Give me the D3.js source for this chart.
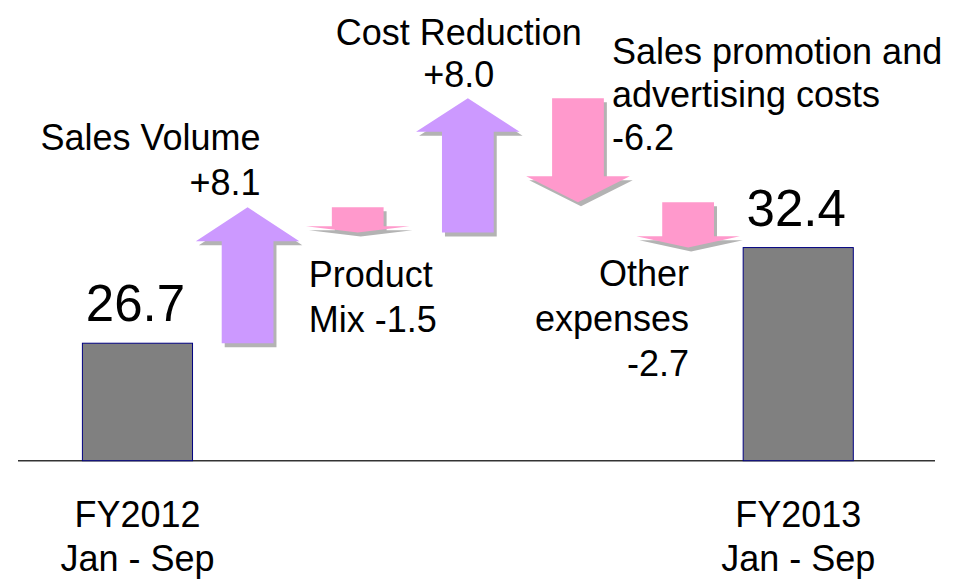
<!DOCTYPE html>
<html>
<head>
<meta charset="utf-8">
<script src="https://cdn.jsdelivr.net/npm/d3@7"></script>
<style>
  body { margin: 0; background: #fff; }
  svg { display: block; font-family: "Liberation Sans", Arial, sans-serif; }
</style>
</head>
<body>
<svg id="chart" width="955" height="579"></svg>
<script>
// data
const categories = ["FY2012", "Sales Volume", "Product Mix", "Cost Reduction", "Sales promotion", "Other expenses", "FY2013"];
const totalLabels = [["FY2012", "Jan - Sep"], ["FY2013", "Jan - Sep"]];
const totals = [26.7, 32.4];
const deltas = [8.1, -1.5, 8.0, -6.2, -2.7];
const deltaLabels = [
  ["Sales Volume", "+8.1"],
  ["Product", "Mix -1.5"],
  ["Cost Reduction", "+8.0"],
  ["Sales promotion and", "advertising costs", "-6.2"],
  ["Other", "expenses", "-2.7"]
];
const axisFloor = 19.7; // value sitting on the baseline (axis is broken)

const svg = d3.select("#chart");
const baseY = 460.7;

const x = d3.scaleBand().domain(categories).range([82.4, 853.3]).padding(0);
const y = d3.scaleLinear().domain([axisFloor, 41.3]).range([baseY, 98.2]);
const bw = x.bandwidth();

// baseline
svg.append("line")
  .attr("x1", 18).attr("x2", 935)
  .attr("y1", baseY).attr("y2", baseY)
  .attr("stroke", "#333").attr("stroke-width", 1.5);

// total bars
const bars = [
  { cat: categories[0], value: totals[0], label: totalLabels[0] },
  { cat: categories[6], value: totals[1], label: totalLabels[1] }
];

svg.selectAll("rect.total")
  .data(bars)
  .enter().append("rect")
  .attr("class", "total")
  .attr("x", d => x(d.cat))
  .attr("y", d => y(d.value))
  .attr("width", bw)
  .attr("height", d => baseY - y(d.value))
  .attr("fill", "#808080")
  .attr("stroke", "#000080")
  .attr("stroke-width", 1);

svg.selectAll("text.total")
  .data(bars)
  .enter().append("text")
  .attr("class", "total")
  .attr("x", d => x(d.cat) + bw / 2 - 2)
  .attr("y", d => y(d.value) - 22)
  .attr("text-anchor", "middle")
  .attr("font-size", 51)
  .text(d => d.value.toFixed(1));

// category labels under baseline
bars.forEach(d => {
  const t = svg.append("text")
    .attr("text-anchor", "middle")
    .attr("font-size", 36);
  d.label.forEach((line, i) => {
    t.append("tspan")
      .attr("x", x(d.cat) + bw / 2)
      .attr("y", 527 + i * 44)
      .text(line);
  });
});

// arrows
let level = totals[0];
const steps = deltas.map((v, i) => {
  const s = { cat: categories[i + 1], start: level, end: level + v, value: v, label: deltaLabels[i] };
  level += v;
  return s;
});

function arrowPath(d) {
  const cx = x(d.cat) + bw / 2;
  const y0 = y(d.start), y1 = y(d.end);
  const dir = y1 < y0 ? -1 : 1;
  const len = Math.abs(y1 - y0);
  const head = len * 0.25;
  const hw = bw * 0.94 / 2, sw = bw * 0.47 / 2;
  const yb = y1 - dir * head;
  const pts = [
    [cx - sw, y0], [cx - sw, yb], [cx - hw, yb], [cx, y1],
    [cx + hw, yb], [cx + sw, yb], [cx + sw, y0]
  ];
  return d3.line()(pts) + "Z";
}

svg.selectAll("path.shadow")
  .data(steps)
  .enter().append("path")
  .attr("class", "shadow")
  .attr("d", arrowPath)
  .attr("transform", "translate(3,4)")
  .attr("fill", "#b3b3b3");

svg.selectAll("path.arrow")
  .data(steps)
  .enter().append("path")
  .attr("class", "arrow")
  .attr("d", arrowPath)
  .attr("fill", d => d.value > 0 ? "#cc99ff" : "#ff99cc");

// label placement relative to each arrow: anchor, dx from centre, baseline of first line relative to a reference level
const labelLayout = [
  { anchor: "end", dx: 13, ref: "end", dy: -57, lh: 45 },
  { anchor: "start", dx: -49, ref: "end", dy: 55, lh: 45 },
  { anchor: "middle", dx: -9, ref: "end", dy: -53, lh: 42 },
  { anchor: "start", dx: 34, ref: "start", dy: -34, lh: 43 },
  { anchor: "end", dx: 1, ref: "end", dy: 38, lh: 45 }
];

steps.forEach((d, i) => {
  const lay = labelLayout[i];
  const cx = x(d.cat) + bw / 2;
  const y0 = y(d[lay.ref]) + lay.dy;
  const t = svg.append("text")
    .attr("text-anchor", lay.anchor)
    .attr("font-size", 36);
  d.label.forEach((line, j) => {
    t.append("tspan")
      .attr("x", cx + lay.dx)
      .attr("y", y0 + j * lay.lh)
      .text(line);
  });
});
</script>
</body>
</html>
